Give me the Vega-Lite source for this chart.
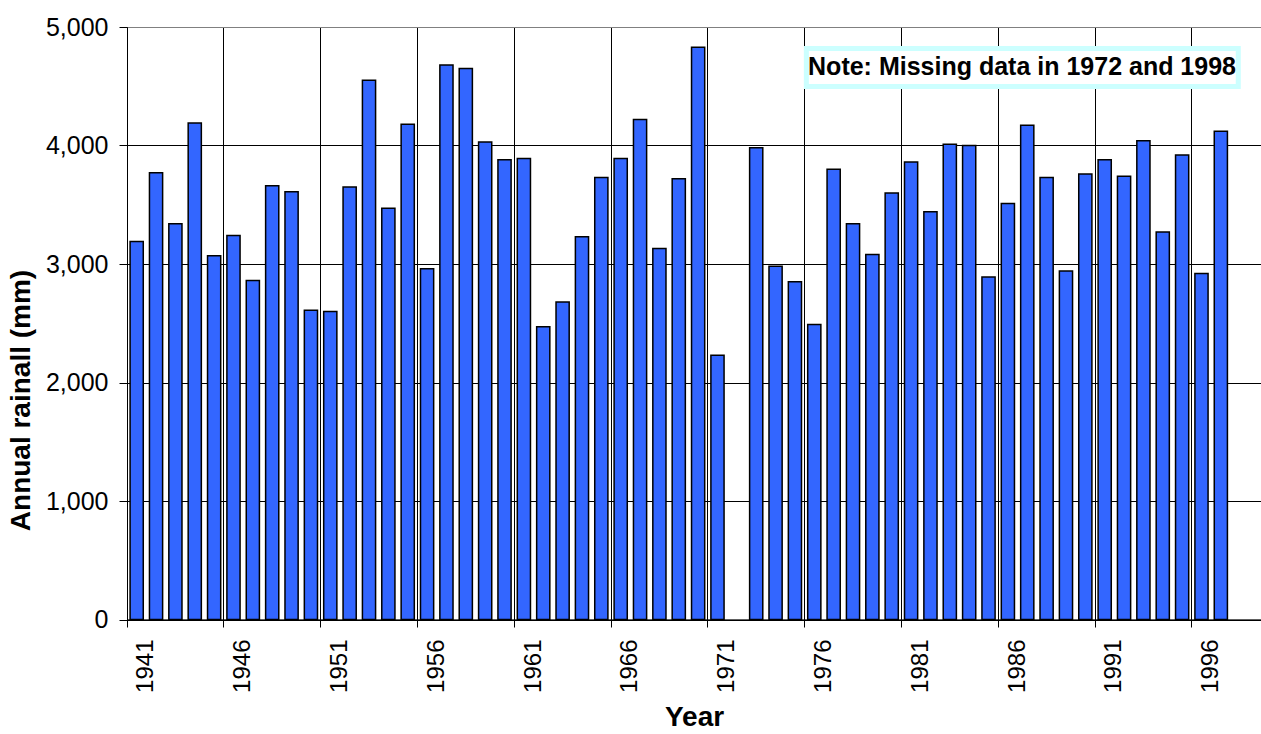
{
  "$schema": "https://vega.github.io/schema/vega-lite/v6.json",
  "width": 1134,
  "height": 592.5,
  "autosize": {"type": "none"},
  "padding": {"left": 127, "top": 27, "right": 0, "bottom": 114.5},
  "background": "white",
  "config": {
    "view": {"stroke": "#808080", "strokeWidth": 1},
    "font": "Liberation Sans",
    "axis": {"labelFont": "Liberation Sans", "titleFont": "Liberation Sans", "labelColor": "black", "titleColor": "black"}
  },
  "datasets": {
    "rain": [
      {"year": "1941", "rainfall": 3190},
      {"year": "1942", "rainfall": 3770},
      {"year": "1943", "rainfall": 3340},
      {"year": "1944", "rainfall": 4190},
      {"year": "1945", "rainfall": 3070},
      {"year": "1946", "rainfall": 3240},
      {"year": "1947", "rainfall": 2860},
      {"year": "1948", "rainfall": 3660},
      {"year": "1949", "rainfall": 3610},
      {"year": "1950", "rainfall": 2610},
      {"year": "1951", "rainfall": 2600},
      {"year": "1952", "rainfall": 3650},
      {"year": "1953", "rainfall": 4550},
      {"year": "1954", "rainfall": 3470},
      {"year": "1955", "rainfall": 4180},
      {"year": "1956", "rainfall": 2960},
      {"year": "1957", "rainfall": 4680},
      {"year": "1958", "rainfall": 4650},
      {"year": "1959", "rainfall": 4030},
      {"year": "1960", "rainfall": 3880},
      {"year": "1961", "rainfall": 3890},
      {"year": "1962", "rainfall": 2470},
      {"year": "1963", "rainfall": 2680},
      {"year": "1964", "rainfall": 3230},
      {"year": "1965", "rainfall": 3730},
      {"year": "1966", "rainfall": 3890},
      {"year": "1967", "rainfall": 4220},
      {"year": "1968", "rainfall": 3130},
      {"year": "1969", "rainfall": 3720},
      {"year": "1970", "rainfall": 4830},
      {"year": "1971", "rainfall": 2230},
      {"year": "1972", "rainfall": null},
      {"year": "1973", "rainfall": 3980},
      {"year": "1974", "rainfall": 2980},
      {"year": "1975", "rainfall": 2850},
      {"year": "1976", "rainfall": 2490},
      {"year": "1977", "rainfall": 3800},
      {"year": "1978", "rainfall": 3340},
      {"year": "1979", "rainfall": 3080},
      {"year": "1980", "rainfall": 3600},
      {"year": "1981", "rainfall": 3860},
      {"year": "1982", "rainfall": 3440},
      {"year": "1983", "rainfall": 4010},
      {"year": "1984", "rainfall": 4000},
      {"year": "1985", "rainfall": 2890},
      {"year": "1986", "rainfall": 3510},
      {"year": "1987", "rainfall": 4170},
      {"year": "1988", "rainfall": 3730},
      {"year": "1989", "rainfall": 2940},
      {"year": "1990", "rainfall": 3760},
      {"year": "1991", "rainfall": 3880},
      {"year": "1992", "rainfall": 3740},
      {"year": "1993", "rainfall": 4040},
      {"year": "1994", "rainfall": 3270},
      {"year": "1995", "rainfall": 3920},
      {"year": "1996", "rainfall": 2920},
      {"year": "1997", "rainfall": 4120},
      {"year": "1998", "rainfall": null}
    ]
  },
  "layer": [
    {
      "data": {"name": "rain"},
      "mark": {"type": "bar", "fill": "#3366FF", "stroke": "black", "strokeWidth": 1.5, "width": {"band": 0.68}},
      "encoding": {
        "x": {
          "field": "year",
          "type": "ordinal",
          "scale": {
            "domain": ["1941","1942","1943","1944","1945","1946","1947","1948","1949","1950","1951","1952","1953","1954","1955","1956","1957","1958","1959","1960","1961","1962","1963","1964","1965","1966","1967","1968","1969","1970","1971","1972","1973","1974","1975","1976","1977","1978","1979","1980","1981","1982","1983","1984","1985","1986","1987","1988","1989","1990","1991","1992","1993","1994","1995","1996","1997","1998"],
            "paddingInner": 0,
            "paddingOuter": 0.287,
            "align": 0
          },
          "axis": {
            "values": ["1941","1946","1951","1956","1961","1966","1971","1976","1981","1986","1991","1996"],
            "bandPosition": 0,
            "labelOffset": 9.68,
            "labelAngle": -90,
            "labelAlign": "right",
            "labelBaseline": "middle",
            "labelFontSize": 24,
            "labelPadding": 12,
            "tickSize": 7.5,
            "tickColor": "black",
            "domainColor": "black",
            "grid": true,
            "gridColor": "black",
            "gridOpacity": 1,
            "title": "Year",
            "titleFontSize": 28,
            "titleFontWeight": "bold",
            "titlePadding": 11
          }
        },
        "y": {
          "field": "rainfall",
          "type": "quantitative",
          "scale": {"domain": [0, 5000], "nice": false},
          "axis": {
            "values": [0, 1000, 2000, 3000, 4000, 5000],
            "format": ",.0f",
            "labelFontSize": 25,
            "labelPadding": 11,
            "tickSize": 8,
            "tickColor": "black",
            "domainColor": "black",
            "grid": true,
            "gridColor": {"condition": {"test": "datum.value >= 5000", "value": "#808080"}, "value": "black"},
            "gridOpacity": 1,
            "title": "Annual rainall (mm)",
            "titleFontSize": 28,
            "titleFontWeight": "bold",
            "titlePadding": 10,
            "titleY": 373
          }
        }
      }
    },
    {
      "data": {"values": [{}]},
      "mark": {"type": "rect", "fill": "white", "stroke": "#CCFFFF", "strokeWidth": 5},
      "encoding": {
        "x": {"datum": "1976", "type": "ordinal", "bandPosition": 0.09},
        "x2": {"datum": "1998", "bandPosition": 0.4},
        "y": {"datum": 4819, "type": "quantitative"},
        "y2": {"datum": 4498}
      }
    },
    {
      "data": {"values": [{"note": "Note: Missing data in 1972 and 1998"}]},
      "mark": {"type": "text", "fontSize": 25, "fontWeight": "bold", "font": "Liberation Sans", "color": "black", "align": "center", "baseline": "middle"},
      "encoding": {
        "x": {"datum": "1987", "type": "ordinal", "bandPosition": 0.23},
        "y": {"datum": 4662, "type": "quantitative"},
        "text": {"field": "note"}
      }
    }
  ]
}
